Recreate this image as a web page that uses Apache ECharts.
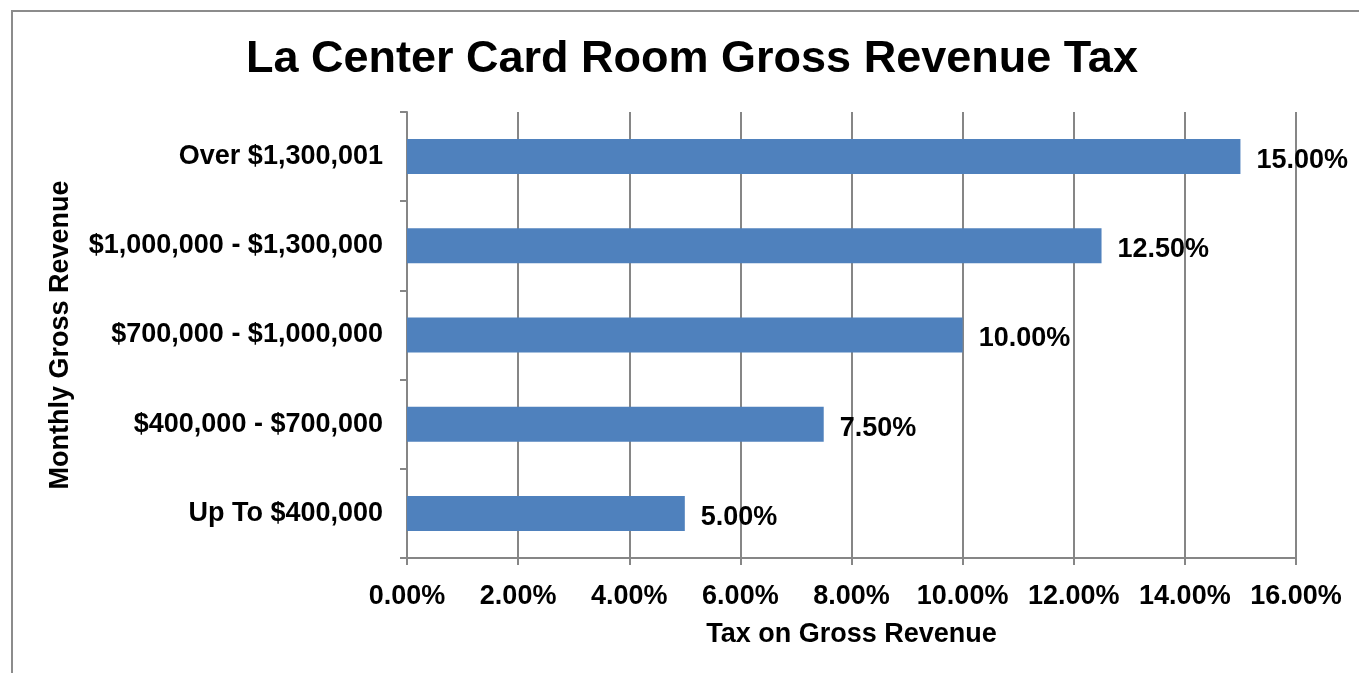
<!DOCTYPE html>
<html>
<head>
<meta charset="utf-8">
<script src="https://cdn.jsdelivr.net/npm/echarts@6/dist/echarts.min.js"></script>
<style>
html, body { margin:0; padding:0; background:#fff; }
#frame { position:absolute; left:11px; top:10px; width:1400px; height:720px; border:2px solid #8c8c8c; box-sizing:border-box; }
#chart { position:absolute; left:0; top:0; width:1359px; height:673px; }
</style>
</head>
<body>
<div id="frame"></div>
<div id="chart"></div>
<script>
var categories = ['Up To $400,000', '$400,000 - $700,000', '$700,000 - $1,000,000', '$1,000,000 - $1,300,000', 'Over $1,300,001'];
var taxRates = [5.0, 7.5, 10.0, 12.5, 15.0];
var xTicks = [0, 2, 4, 6, 8, 10, 12, 14, 16];

var chart = echarts.init(document.getElementById('chart'));
var font = 'Liberation Sans, Arial, sans-serif';
var option = {
    animation: false,
    title: {
        text: 'La Center Card Room Gross Revenue Tax',
        left: 241,
        top: 32,
        textStyle: { fontFamily: font, fontSize: 45, fontWeight: 'bold', color: '#000' }
    },
    grid: { left: 407, right: 63, top: 112, bottom: 115 },
    xAxis: {
        type: 'value',
        min: xTicks[0],
        max: xTicks[xTicks.length - 1],
        interval: 2,
        name: 'Tax on Gross Revenue',
        nameLocation: 'middle',
        nameGap: 63,
        nameTextStyle: { fontFamily: font, fontSize: 27, fontWeight: 'bold', color: '#000' },
        axisLine: { show: true, lineStyle: { color: '#868686', width: 2 } },
        axisTick: { show: true, length: 7, lineStyle: { color: '#868686', width: 2 } },
        splitLine: { show: true, lineStyle: { color: '#868686', width: 2 } },
        axisLabel: {
            margin: 25,
            fontFamily: font, fontSize: 27, fontWeight: 'bold', color: '#000',
            formatter: function (v) { return v.toFixed(2) + '%'; }
        }
    },
    yAxis: {
        type: 'category',
        data: categories,
        name: 'Monthly Gross Revenue',
        nameLocation: 'middle',
        nameGap: 333,
        nameRotate: 90,
        nameTextStyle: { fontFamily: font, fontSize: 27, fontWeight: 'bold', color: '#000' },
        axisLine: { show: true, lineStyle: { color: '#868686', width: 2 } },
        axisTick: { show: true, length: 7, lineStyle: { color: '#868686', width: 2 } },
        axisLabel: { margin: 24, fontFamily: font, fontSize: 27, fontWeight: 'bold', color: '#000' }
    },
    series: [{
        type: 'bar',
        data: taxRates,
        barWidth: 35,
        itemStyle: { color: '#4f81bd' },
        label: {
            show: true,
            position: 'right',
            distance: 16,
            offset: [0, 4],
            fontFamily: font, fontSize: 27, fontWeight: 'bold', color: '#000',
            formatter: function (p) { return p.value.toFixed(2) + '%'; }
        }
    }]
};
chart.setOption(option);
</script>
</body>
</html>
